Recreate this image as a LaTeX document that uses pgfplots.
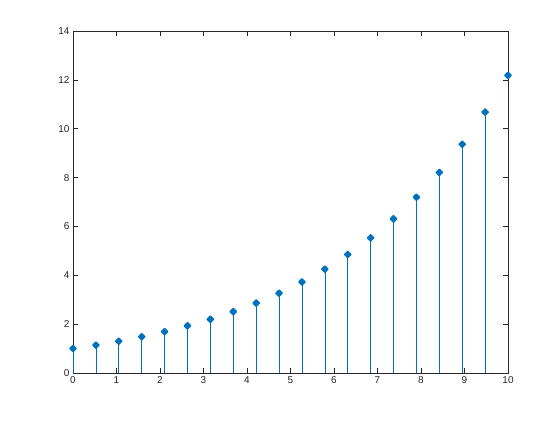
\documentclass[border=0pt]{standalone}
\usepackage{pgfplots}
\pgfplotsset{compat=1.18}
\usepackage{fontspec}
\setmainfont{Liberation Sans}
\definecolor{mblue}{rgb}{0,0.447,0.741}
\definecolor{axgray}{rgb}{0.15,0.15,0.15}
\begin{document}
\begin{tikzpicture}[x=1bp,y=1bp]
\useasboundingbox (0,0) rectangle (560,420);
\begin{axis}[
  at={(73bp,47bp)}, anchor=south west,
  scale only axis, width=435bp, height=342bp,
  xmin=0, xmax=10, ymin=0, ymax=14,
  xtick={0,1,...,10}, ytick={0,2,...,14},
  tick align=inside, major tick length=5bp,
  axis line style={axgray, line width=0.5pt},
  tick style={axgray, line width=0.5pt},
  ticklabel style={font=\fontsize{10}{12}\selectfont, text=axgray},
  /pgf/number format/assume math mode=true,
  xtick pos=both, ytick pos=both,
]
\addplot+[ycomb, mblue, line width=0.6pt, mark=square*, mark size=2.2bp, mark options={solid, fill=mblue, draw=mblue, line width=1.5pt, rotate=45, line join=round}] coordinates {
(0,1) (0.5263,1.1406) (1.0526,1.3010) (1.5789,1.4840) (2.1053,1.6927)
(2.6316,1.9307) (3.1579,2.2022) (3.6842,2.5119) (4.2105,2.8651) (4.7368,3.2680)
(5.2632,3.7276) (5.7895,4.2517) (6.3158,4.8496) (6.8421,5.5316) (7.3684,6.3094)
(7.8947,7.1967) (8.4211,8.2088) (8.9474,9.3632) (9.4737,10.6799) (10,12.1825)
};
\end{axis}
\end{tikzpicture}
\end{document}
